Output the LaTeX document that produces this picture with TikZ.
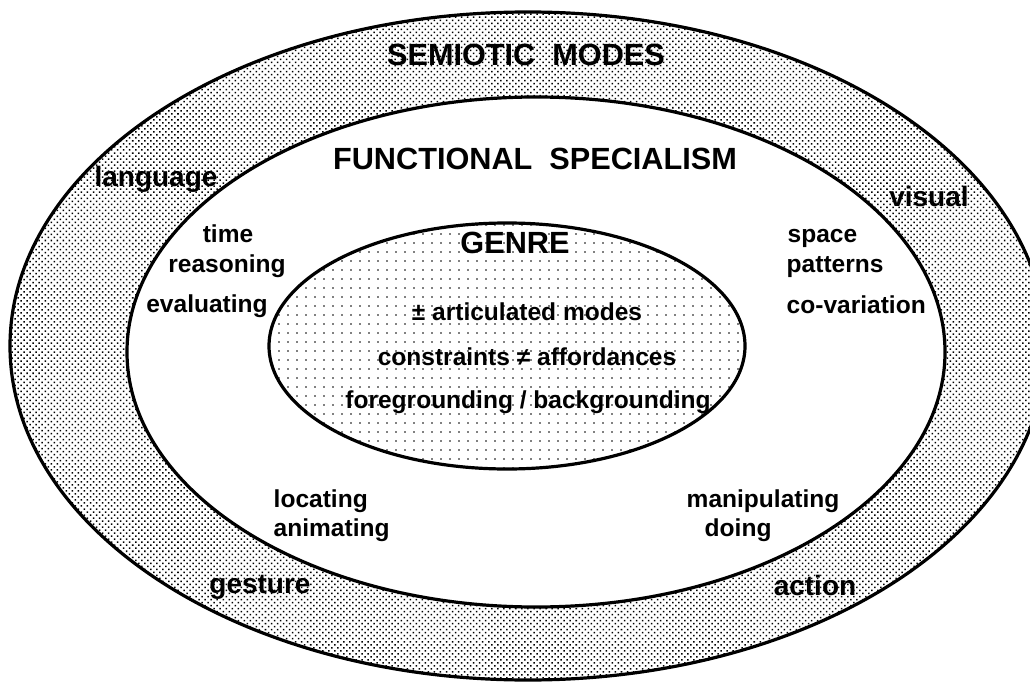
\documentclass[tikz,border=0pt]{standalone}
\usepackage{fontspec}
\setmainfont{Liberation Sans}
\usetikzlibrary{patterns.meta}

\begin{document}
\begin{tikzpicture}[x=0.75pt,y=-0.75pt,
    ring/.style={line width=2.4pt},
    bigtext/.style={font=\bfseries\fontsize{23}{27}\selectfont, anchor=base},
    modetext/.style={font=\bfseries\fontsize{21}{25}\selectfont, anchor=base},
    itemtext/.style={font=\bfseries\fontsize{18.4}{22}\selectfont, anchor=base}]
    \useasboundingbox (0,0) rectangle (1030,684);
    % the three rings
    \draw[ring,pattern={Dots[distance=3.2pt,radius=0.8pt,angle=45]}]
        (528,346) ellipse [x radius=388.5pt, y radius=250.5pt];
    \draw[ring,fill=white] (536,352) ellipse [x radius=306.75pt, y radius=191.25pt];
    \draw[ring,pattern={Dots[distance=6.75pt,radius=0.65pt]}]
        (507,346) ellipse [x radius=178.5pt, y radius=92.25pt];
    % semiotic modes
    \node[bigtext] (modes) at (526,66) {SEMIOTIC\ \ MODES};
    \node[modetext] (language) at (156,187) {language};
    \node[modetext] (visual) at (929,207) {visual};
    \node[modetext] (gesture) at (260,593) {gesture};
    \node[modetext] (action) at (815,595) {action};
    % functional specialism
    \node[bigtext] (special) at (535,170) {FUNCTIONAL\ \ SPECIALISM};
    \node[itemtext] (time) at (228,243) {time};
    \node[itemtext] (reason) at (227,272) {reasoning};
    \node[itemtext] (evaluate) at (207,312) {evaluating};
    \node[itemtext,anchor=base west] (space) at (783,243) {space};
    \node[itemtext,anchor=base west] (pattern) at (782,272) {patterns};
    \node[itemtext,anchor=base west] (covary) at (782,313) {co-variation};
    \node[itemtext,anchor=base west] (locate) at (269,507) {locating};
    \node[itemtext,anchor=base west] (animate) at (269,536) {animating};
    \node[itemtext,anchor=base west] (manip) at (682,507) {manipulating};
    \node[itemtext,anchor=base west] (doing) at (700,536) {doing};
    % genre
    \node[bigtext] (genre) at (515,253) {GENRE};
    \node[itemtext] (artic) at (527,320) {± articulated modes};
    \node[itemtext] (constr) at (527,365) {constraints ≠ affordances};
    \node[itemtext] (fore) at (528,408) {foregrounding / backgrounding};
\end{tikzpicture}
\end{document}
